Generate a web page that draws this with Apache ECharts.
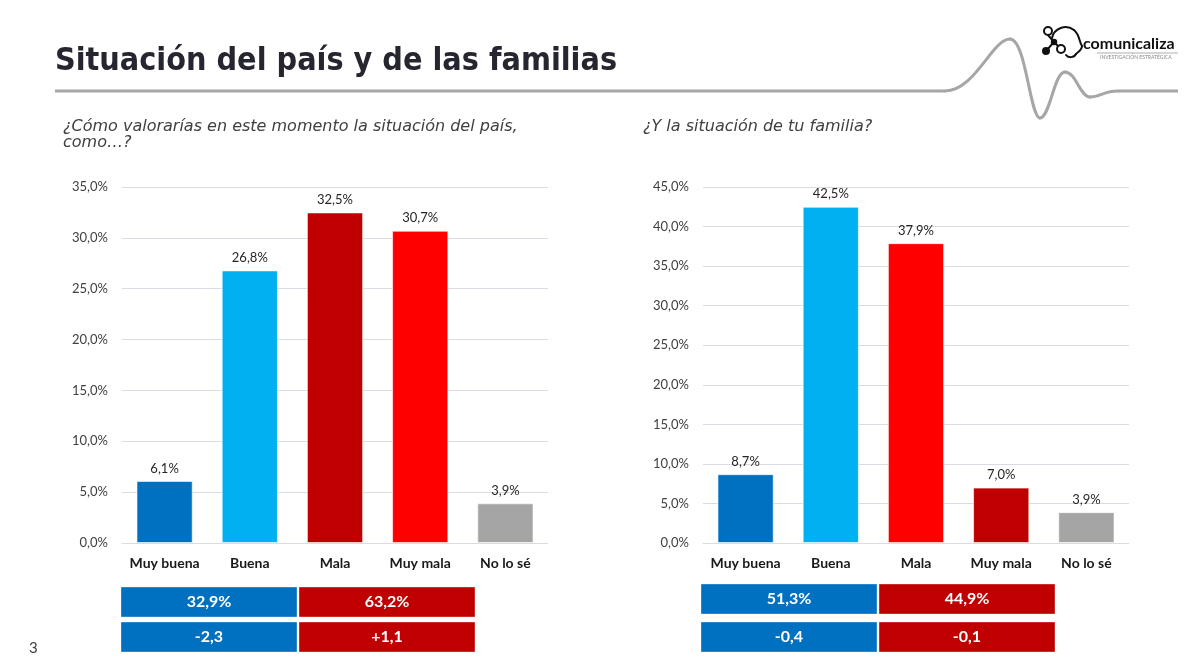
<!DOCTYPE html>
<html>
<head>
<meta charset="utf-8">
<script src="https://cdn.jsdelivr.net/npm/echarts@6/dist/echarts.min.js"></script>
<style>
html,body{margin:0;padding:0;background:#fff;}
#chart{width:1200px;height:672px;}
</style>
</head>
<body>
<div id="chart"></div>
<script>
// ---- data ----
var categories = ['Muy buena', 'Buena', 'Mala', 'Muy mala', 'No lo sé'];
var paisValues = [6.1, 26.8, 32.5, 30.7, 3.9];
var familiaValues = [8.7, 42.5, 37.9, 7.0, 3.9];
var paisColors = ['#0070C0', '#00B0F0', '#C00000', '#FF0000', '#A5A5A5'];
var familiaColors = ['#0070C0', '#00B0F0', '#FF0000', '#C00000', '#A5A5A5'];
var paisTotals = [32.9, 63.2];      // buena / mala
var paisChanges = [-2.3, 1.1];
var familiaTotals = [51.3, 44.9];
var familiaChanges = [-0.4, -0.1];
var paisMax = 35, familiaMax = 45, tickStep = 5;

var title = 'Situación del país y de las familias';
var q1a = '¿Cómo valorarías en este momento la situación del país,';
var q1b = 'como…?';
var q2 = '¿Y la situación de tu familia?';
var pageNum = '3';

function pct(v) { return v.toFixed(1).replace('.', ',') + '%'; }
function chg(v) { return (v > 0 ? '+' : '') + v.toFixed(1).replace('.', ','); }

var FONT = 'Lato, "Open Sans", sans-serif';
var chart = echarts.init(document.getElementById('chart'), null, {renderer: 'canvas'});

function yAxisCfg(idx, max) {
  return {
    type: 'value', gridIndex: idx, min: 0, max: max, interval: tickStep,
    axisLabel: {formatter: function (v) { return pct(v); }, color: '#404040',
      fontFamily: FONT, fontSize: 13, margin: 14},
    axisLine: {show: false}, axisTick: {show: false},
    splitLine: {lineStyle: {color: '#D9DDE3', width: 1}}
  };
}
function xAxisCfg(idx) {
  return {
    type: 'category', gridIndex: idx, data: categories,
    axisLine: {lineStyle: {color: '#D9DDE3'}}, axisTick: {show: false},
    axisLabel: {interval: 0, color: '#1a1a1a', fontFamily: FONT, fontSize: 14, fontWeight: 'bold', margin: 13}
  };
}
function seriesCfg(idx, vals, cols) {
  return {
    type: 'bar', xAxisIndex: idx, yAxisIndex: idx, barCategoryGap: '34%',
    data: vals.map(function (v, i) {
      return {value: v, itemStyle: {color: cols[i], borderColor: 'rgba(255,255,255,0.6)', borderWidth: 1}};
    }),
    label: {show: true, position: 'top', distance: 6, color: '#262626', fontFamily: FONT, fontSize: 13,
      formatter: function (p) { return pct(p.value); }},
    silent: true, animation: false
  };
}

function boxes(x, y1, y2, totals, changes) {
  var w = 176, h = 30, gap = 2, els = [];
  var cols = ['#0070C0', '#C00000'];
  for (var i = 0; i < 2; i++) {
    var bx = x + i * (w + gap);
    [[y1, pct(totals[i])], [y2, chg(changes[i])]].forEach(function (r) {
      els.push({type: 'rect', shape: {x: bx, y: r[0], width: w, height: h},
        style: {fill: cols[i], stroke: 'rgba(255,255,255,0.35)', lineWidth: 1}});
      els.push({type: 'text', x: bx + w / 2, y: r[0] + h / 2,
        style: {text: r[1], fill: '#fff', font: 'bold 16px ' + FONT, align: 'center', verticalAlign: 'middle'}});
    });
  }
  return els;
}

function bez(x1, y1, c1x, c1y, c2x, c2y, x2, y2, color, w) {
  return {type: 'bezierCurve', shape: {x1: x1, y1: y1, cpx1: c1x, cpy1: c1y, cpx2: c2x, cpy2: c2y, x2: x2, y2: y2},
    style: {stroke: color, lineWidth: w, fill: null, lineCap: 'round'}};
}
var WAVE = '#A6A6A6';

var graphics = [
  {type: 'text', x: 55, y: 62, style: {text: title, fill: '#262630',
    font: 'bold 32px "DejaVu Sans Condensed", "DejaVu Sans", sans-serif', verticalAlign: 'middle'}},
  {type: 'line', shape: {x1: 55, y1: 91, x2: 945, y2: 91}, style: {stroke: WAVE, lineWidth: 3}},
  bez(945, 91, 975, 91, 992, 39, 1010, 39, WAVE, 3),
  bez(1010, 39, 1026, 39, 1030, 118, 1040, 118, WAVE, 3),
  bez(1040, 118, 1050, 118, 1054, 72, 1065, 72, WAVE, 3),
  bez(1065, 72, 1076, 72, 1080, 97, 1090, 97, WAVE, 3),
  bez(1090, 97, 1100, 97, 1104, 91, 1118, 91, WAVE, 3),
  {type: 'line', shape: {x1: 1118, y1: 91, x2: 1178, y2: 91}, style: {stroke: WAVE, lineWidth: 3}},
  {type: 'text', x: 63, y: 127, style: {text: q1a, fill: '#404040',
    font: 'italic 16px "DejaVu Sans", Verdana, sans-serif', verticalAlign: 'middle'}},
  {type: 'text', x: 63, y: 143, style: {text: q1b, fill: '#404040',
    font: 'italic 16px "DejaVu Sans", Verdana, sans-serif', verticalAlign: 'middle'}},
  {type: 'text', x: 643, y: 127, style: {text: q2, fill: '#404040',
    font: 'italic 16px "DejaVu Sans", Verdana, sans-serif', verticalAlign: 'middle'}},
  {type: 'text', x: 29, y: 648, style: {text: pageNum, fill: '#404040',
    font: '15px ' + FONT, verticalAlign: 'middle'}},
  // logo
  bez(1052, 38, 1054, 28, 1066, 24, 1074, 30, '#111', 2),
  bez(1074, 30, 1080, 35, 1079, 42, 1082, 46, '#111', 2),
  bez(1082, 46, 1082, 50, 1078, 52, 1076, 54, '#111', 2),
  bez(1076, 54, 1074, 58, 1068, 58, 1066, 55, '#111', 2),
  {type: 'polyline', shape: {points: [[1048, 35], [1054, 42], [1046, 51]]}, style: {stroke: '#111', lineWidth: 2, fill: null}},
  {type: 'line', shape: {x1: 1054, y1: 42, x2: 1058, y2: 46}, style: {stroke: '#111', lineWidth: 2}},
  {type: 'circle', shape: {cx: 1048, cy: 31, r: 4}, style: {stroke: '#111', lineWidth: 2, fill: '#fff'}},
  {type: 'circle', shape: {cx: 1046, cy: 51, r: 3}, style: {stroke: '#111', lineWidth: 2, fill: '#111'}},
  {type: 'circle', shape: {cx: 1061, cy: 49, r: 4}, style: {stroke: '#111', lineWidth: 2, fill: '#fff'}},
  {type: 'circle', shape: {cx: 1054, cy: 42, r: 2.5}, style: {stroke: '#111', lineWidth: 1.5, fill: '#111'}},
  {type: 'text', x: 1083, y: 44, style: {text: 'comunicaliza', fill: '#111',
    font: 'bold 16px ' + FONT, verticalAlign: 'middle'}},
  {type: 'line', shape: {x1: 1097, y1: 53, x2: 1178, y2: 53}, style: {stroke: '#999', lineWidth: 0.8}},
  {type: 'text', x: 1100, y: 57, style: {text: 'INVESTIGACIÓN ESTRATÉGICA', fill: '#888',
    font: '5px ' + FONT, verticalAlign: 'middle'}}
].concat(boxes(121, 587, 622, paisTotals, paisChanges))
 .concat(boxes(701, 584, 622, familiaTotals, familiaChanges));

chart.setOption({
  backgroundColor: '#fff',
  animation: false,
  grid: [
    {left: 122, top: 187, width: 426, height: 356},
    {left: 703, top: 187, width: 426, height: 356}
  ],
  xAxis: [xAxisCfg(0), xAxisCfg(1)],
  yAxis: [yAxisCfg(0, paisMax), yAxisCfg(1, familiaMax)],
  series: [seriesCfg(0, paisValues, paisColors), seriesCfg(1, familiaValues, familiaColors)],
  graphic: graphics
});
</script>
</body>
</html>
